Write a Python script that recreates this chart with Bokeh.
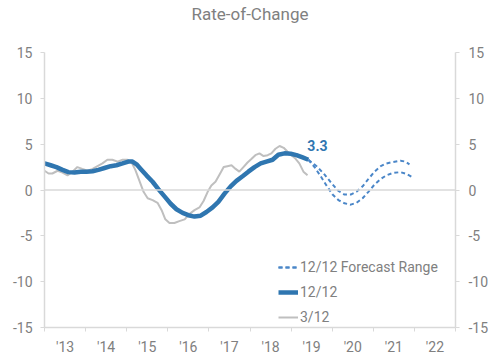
from bokeh.plotting import figure
from bokeh.models import Range1d, LinearAxis, FixedTicker, Span, Legend, LegendItem, Label, Title
from bokeh.embed import file_html
from bokeh.resources import INLINE

# ---- data ----
yr_12 = [2013.00, 2013.15, 2013.29, 2013.44, 2013.58, 2013.73, 2013.88, 2014.02, 2014.17, 2014.31,
         2014.46, 2014.61, 2014.75, 2014.90, 2015.04, 2015.14, 2015.24, 2015.34, 2015.48, 2015.63,
         2015.77, 2015.92, 2016.07, 2016.21, 2016.36, 2016.50, 2016.65, 2016.80, 2016.94, 2017.09,
         2017.23, 2017.38, 2017.53, 2017.67, 2017.82, 2017.96, 2018.11, 2018.26, 2018.40, 2018.55,
         2018.69, 2018.84, 2018.99, 2019.13, 2019.28, 2019.42]
val_12 = [2.9, 2.7, 2.5, 2.2, 1.95, 1.9, 2.0, 2.0, 2.05, 2.2,
          2.4, 2.6, 2.7, 2.9, 3.1, 3.1, 2.8, 2.3, 1.6, 0.9,
          0.1, -0.7, -1.5, -2.1, -2.5, -2.75, -2.9, -2.8, -2.4, -1.9,
          -1.3, -0.4, 0.4, 1.0, 1.5, 2.0, 2.5, 2.9, 3.1, 3.3,
          3.85, 4.0, 3.95, 3.8, 3.55, 3.3]

yr_3 = [2013.00, 2013.10, 2013.19, 2013.32, 2013.44, 2013.56, 2013.68, 2013.80, 2013.92, 2014.05,
        2014.17, 2014.29, 2014.41, 2014.53, 2014.65, 2014.78, 2014.90, 2015.02, 2015.12, 2015.21,
        2015.31, 2015.41, 2015.51, 2015.63, 2015.75, 2015.85, 2015.94, 2016.04, 2016.16, 2016.28,
        2016.41, 2016.53, 2016.65, 2016.77, 2016.87, 2016.97, 2017.06, 2017.16, 2017.26, 2017.36,
        2017.45, 2017.55, 2017.65, 2017.74, 2017.84, 2017.94, 2018.04, 2018.13, 2018.23, 2018.33,
        2018.43, 2018.52, 2018.62, 2018.72, 2018.82, 2018.91, 2019.01, 2019.11, 2019.20, 2019.30,
        2019.40]
val_3 = [2.1, 1.8, 1.8, 2.1, 1.9, 1.6, 2.0, 2.5, 2.3, 2.1,
         2.3, 2.6, 2.9, 3.3, 3.3, 3.1, 3.3, 3.3, 3.0, 2.2,
         1.0, -0.2, -0.9, -1.1, -1.4, -2.2, -3.2, -3.6, -3.6, -3.4,
         -3.2, -2.6, -2.2, -1.9, -1.2, -0.2, 0.5, 0.9, 1.7, 2.5,
         2.6, 2.7, 2.3, 2.0, 2.5, 3.0, 3.4, 3.8, 4.0, 3.7,
         3.8, 4.0, 4.5, 4.8, 4.6, 4.2, 3.8, 3.4, 2.9, 2.0,
         1.6]

yr_fc_hi = [2019.42, 2019.62, 2019.81, 2020.01, 2020.15, 2020.30, 2020.45, 2020.59, 2020.74, 2020.88,
            2021.03, 2021.18, 2021.32, 2021.47, 2021.66, 2021.78, 2021.88]
val_fc_hi = [3.3, 2.6, 1.7, 0.6, -0.1, -0.5, -0.5, -0.2, 0.4, 1.2,
             2.0, 2.6, 2.9, 3.05, 3.2, 3.1, 2.8]

yr_fc_lo = [2019.42, 2019.57, 2019.72, 2019.86, 2020.01, 2020.15, 2020.30, 2020.45, 2020.59, 2020.74,
            2020.88, 2021.03, 2021.18, 2021.32, 2021.47, 2021.66, 2021.81, 2021.95]
val_fc_lo = [3.3, 2.5, 1.5, 0.5, -0.5, -1.1, -1.45, -1.6, -1.4, -0.9,
             -0.2, 0.6, 1.2, 1.6, 1.85, 1.95, 1.75, 1.4]

year_bounds = list(range(2013, 2024))
year_labels = ["'13", "'14", "'15", "'16", "'17", "'18", "'19", "'20", "'21", "'22"]
y_ticks = [-15, -10, -5, 0, 5, 10, 15]
y_labels = ["-15", "-10", "-5", "0", "5", "10", "15"]
last_value = 3.3
title_text = "Rate-of-Change"

FONT = "Roboto"
GRAY_TXT = "#808080"
AXIS_CLR = "#d9d9d9"
BLUE = "#2f76b0"
FC_BLUE = "#4a86c8"
GRAY_LINE = "#bfbfbf"

p = figure(width=500, height=363, output_backend="svg", toolbar_location=None, title=None,
           x_range=Range1d(2013, 2023), y_range=Range1d(-15, 15),
           min_border_left=44, min_border_right=45, min_border_top=52, min_border_bottom=36,
           x_axis_location=None, y_axis_location=None, outline_line_color=None,
           background_fill_color="white", border_fill_color="white")
p.xgrid.visible = False
p.ygrid.visible = False

# spacer between frame and title, then the title itself
p.add_layout(Title(text=" ", text_font_size="1px", standoff=24), "above")
p.add_layout(Title(text=title_text, align="center", vertical_align="top", standoff=0,
                   text_font=FONT, text_font_size="17px", text_font_style="normal",
                   text_color=GRAY_TXT), "above")

# axes
mid_years = [y + 0.5 for y in year_bounds[:-1]]
xaxis = LinearAxis(ticker=FixedTicker(ticks=mid_years, minor_ticks=year_bounds),
                   major_label_overrides={m: l for m, l in zip(mid_years, year_labels)})
xaxis.major_tick_line_color = None
xaxis.major_tick_out = 4
xaxis.major_tick_in = 0
xaxis.minor_tick_line_color = AXIS_CLR
xaxis.minor_tick_out = 4
xaxis.minor_tick_in = 0
xaxis.major_label_standoff = 7
p.add_layout(xaxis, "below")

ylab = {t: l for t, l in zip(y_ticks, y_labels)}
yl = LinearAxis(ticker=FixedTicker(ticks=y_ticks), major_label_overrides=ylab)
yr = LinearAxis(ticker=FixedTicker(ticks=y_ticks), major_label_overrides=ylab)
for ax, so in ((yl, 8), (yr, 9)):
    ax.major_tick_out = 4
    ax.major_tick_in = 0
    ax.minor_tick_line_color = None
    ax.major_tick_line_color = AXIS_CLR
    ax.major_label_standoff = so
p.add_layout(yl, "left")
p.add_layout(yr, "right")

for ax in (xaxis, yl, yr):
    ax.axis_line_color = AXIS_CLR
    ax.axis_line_width = 1.5
    ax.major_label_text_font = FONT
    ax.major_label_text_font_size = "14px"
    ax.major_label_text_color = GRAY_TXT

p.add_layout(Span(location=0, dimension="width", line_color=AXIS_CLR, line_width=1.5))

r3 = p.line(yr_3, val_3, line_color=GRAY_LINE, line_width=2)
r12 = p.line(yr_12, val_12, line_color=BLUE, line_width=4.5)
rhi = p.line(yr_fc_hi, val_fc_hi, line_color=FC_BLUE, line_width=2, line_dash="4 3")
rlo = p.line(yr_fc_lo, val_fc_lo, line_color=FC_BLUE, line_width=2, line_dash="4 3")

p.add_layout(Label(x=yr_12[-1], y=last_value, text=f"{last_value:.1f}", x_offset=-1, y_offset=14,
                   text_align="left", text_baseline="middle", text_font=FONT,
                   text_font_size="14px", text_font_style="bold", text_color=BLUE))

legend = Legend(items=[LegendItem(label="12/12 Forecast Range", renderers=[rhi, rlo]),
                       LegendItem(label="12/12", renderers=[r12]),
                       LegendItem(label="3/12", renderers=[r3])],
                location=(234, 0), padding=0, margin=0, spacing=5,
                glyph_width=20, glyph_height=20, label_height=20, label_standoff=2,
                label_text_font=FONT, label_text_font_size="14px", label_text_color=GRAY_TXT,
                background_fill_alpha=0, border_line_color=None)
p.add_layout(legend)

open("out.html", "w").write(file_html(p, INLINE))
